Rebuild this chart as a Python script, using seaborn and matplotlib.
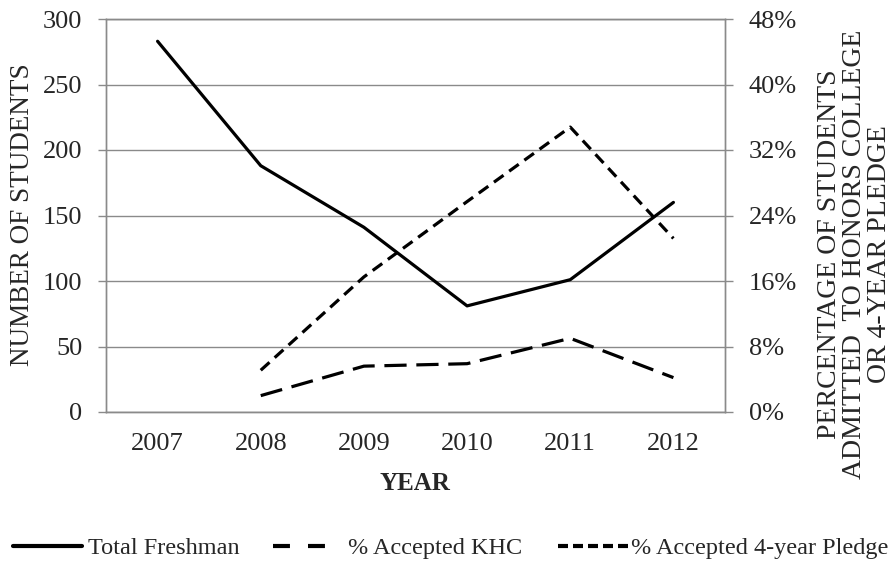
import numpy as np
import pandas as pd
import matplotlib
matplotlib.use("Agg")
import matplotlib.pyplot as plt
from matplotlib.lines import Line2D
from matplotlib.ticker import PercentFormatter
import seaborn as sns

# values
years = [2007, 2008, 2009, 2010, 2011, 2012]
total_freshman = [283, 188, 141, 81, 101, 160]
pct_khc = [np.nan, 2.0, 5.6, 5.9, 9.0, 4.2]
pct_pledge = [np.nan, 5.1, 16.5, 25.7, 34.8, 21.2]

sns.set_style("white")
plt.rcParams['font.family'] = ['Liberation Serif', 'DejaVu Serif']
plt.rcParams['lines.scale_dashes'] = False

df = pd.DataFrame({
    'Year': years,
    'Total Freshman': total_freshman,
    'KHC': pct_khc,
    'Pledge': pct_pledge,
})

W, H = 895, 567
grey = '#8a8a8a'
khc_dash = (0, (16, 7))
pledge_dash = (0, (8.5, 5))

fig = plt.figure(figsize=(W / 100, H / 100), dpi=100)
ax = fig.add_axes([106 / W, 1 - 412 / H, (725 - 106) / W, (412 - 19) / H])
ax2 = ax.twinx()

sns.lineplot(data=df, x='Year', y='Total Freshman', ax=ax, color='black',
             lw=2.3, estimator=None)
sns.lineplot(data=df, x='Year', y='KHC', ax=ax2, color='black',
             lw=2.3, linestyle=khc_dash, estimator=None)
sns.lineplot(data=df, x='Year', y='Pledge', ax=ax2, color='black',
             lw=2.3, linestyle=pledge_dash, estimator=None)

ax.set_xlim(years[0] - 0.5, years[-1] + 0.5)
ax.set_ylim(0, 300)
ax2.set_ylim(0, 48)

ax.set_xticks(years)
ax.set_xticklabels([str(y) for y in years])
ax.set_xticks(np.arange(years[0] - 0.5, years[-1] + 1, 1), minor=True)
ax.set_yticks(range(0, 301, 50))
ax2.set_yticks(range(0, 49, 8))
ax2.yaxis.set_major_formatter(PercentFormatter(xmax=100, decimals=0))

ax.tick_params(axis='x', which='major', length=0, pad=15, labelsize=19)
ax.tick_params(axis='x', which='minor', length=5, width=1, color=grey, direction='out')
ax.tick_params(axis='y', length=6, width=1, color=grey, direction='out', pad=11, labelsize=19)
ax2.tick_params(axis='y', length=6, width=1, color=grey, direction='out', pad=11, labelsize=19)

ax.yaxis.grid(True, color=grey, lw=1)
for a in (ax, ax2):
    for s in a.spines.values():
        s.set_color(grey)
        s.set_linewidth(1)
    a.set_xlabel('')
    a.set_ylabel('')

# axis titles
fig.text(23 / W, 1 - 215 / H, 'NUMBER OF STUDENTS', rotation=90,
         ha='center', va='center', fontsize=19.5)
fig.text(415 / W, 1 - 483 / H, 'YEAR', ha='center', va='center',
         fontsize=18, fontweight='bold')
fig.text(855 / W, 1 - 254 / H,
         'PERCENTAGE OF STUDENTS\nADMITTED  TO HONORS COLLEGE\nOR 4-YEAR PLEDGE',
         rotation=90, ha='center', va='center', multialignment='center',
         linespacing=1.0, fontsize=20)

# legend, one key per entry so each sits where it does in the reference
keys = [
    (13, Line2D([], [], color='black', lw=3), 'Total Freshman', 2.84, 0.25),
    (273, Line2D([], [], color='black', lw=3, linestyle=(0, (12.2, 13))), '% Accepted KHC', 2.14, 0.95),
    (558, Line2D([], [], color='black', lw=3, linestyle=(0, (7.2, 3.6))), '% Accepted 4-year Pledge', 2.88, 0.12),
]
for x0, handle, label, hlen, tpad in keys:
    fig.legend(handles=[handle], labels=[label], loc='center left',
               bbox_to_anchor=(x0 / W, 1 - 548 / H), frameon=False, fontsize=17.5,
               handlelength=hlen, handletextpad=tpad, borderpad=0, borderaxespad=0)

fig.savefig('out.png', dpi=100)
